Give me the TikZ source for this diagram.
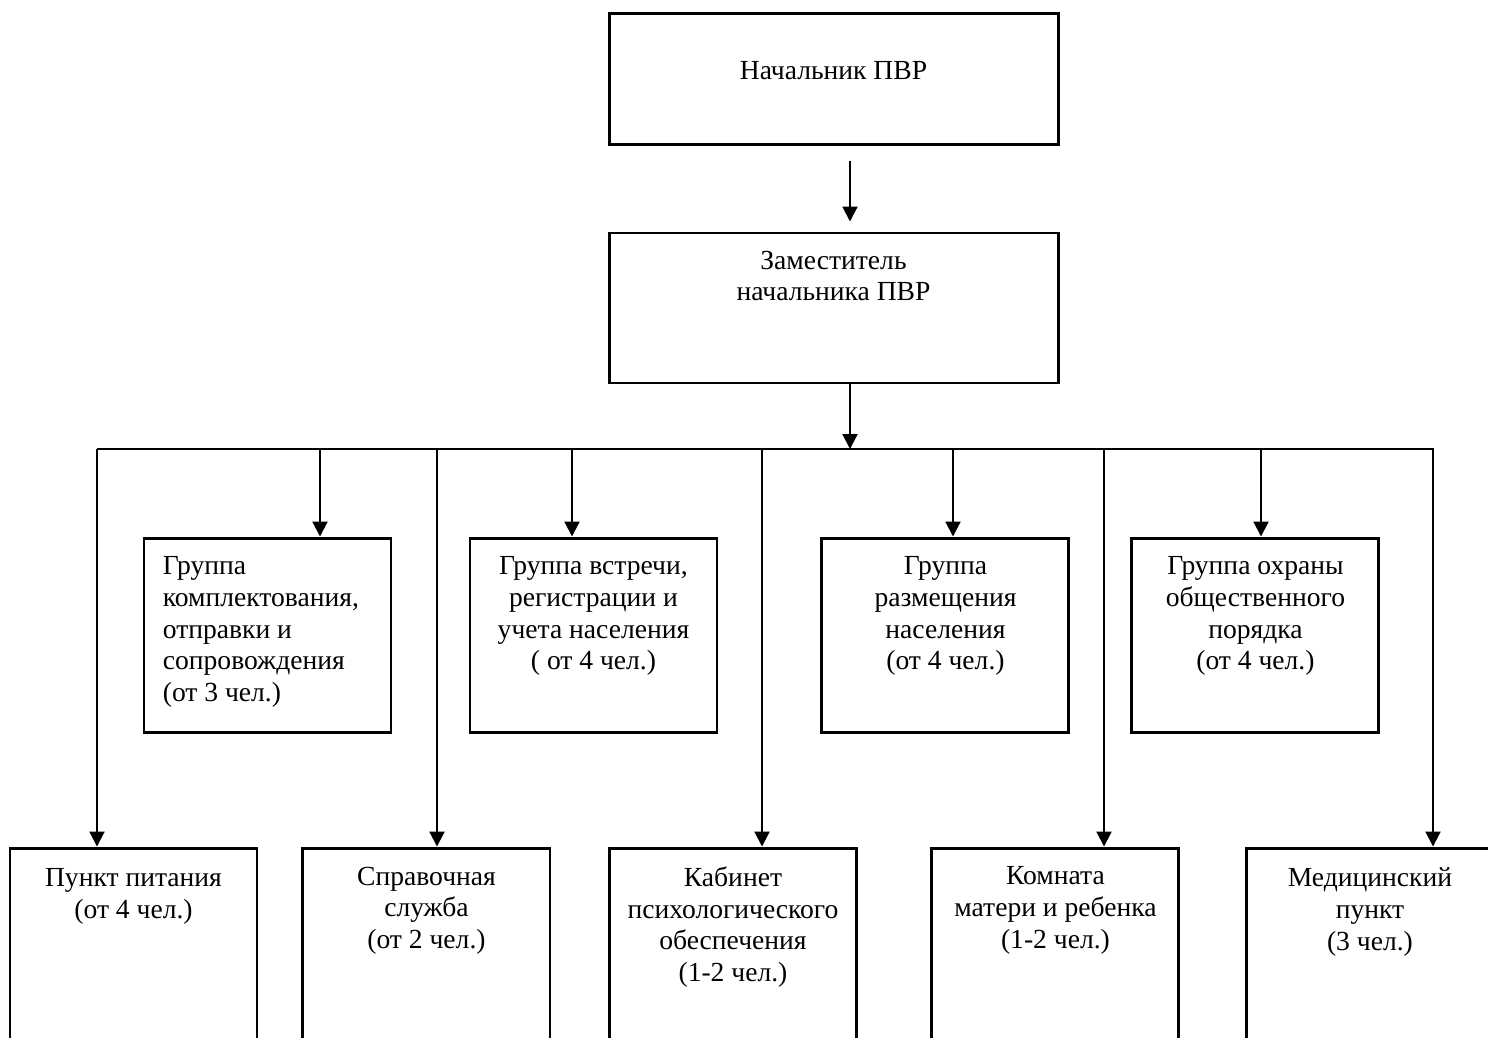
\documentclass[tikz,border=0pt]{standalone}
\usepackage{fontspec}
\setmainfont{Liberation Serif}
\usetikzlibrary{arrows.meta,positioning}

\begin{document}
\begin{tikzpicture}[font=\fontsize{15.7pt}{18pt}\selectfont,
    unit/.style={draw,line width=1.7pt,minimum width=4.94cm,minimum height=3.88cm,inner sep=0pt},
    post/.style={unit,minimum height=4.5cm},
    head/.style={unit,minimum width=8.98cm},
    txt/.style={align=center,inner sep=0pt},
    link/.style={line width=1.2pt,-{Triangle[width=3mm,length=3mm]}}]
    \clip (0,0) rectangle (29.76,-20.74);
    \node[head,minimum height=2.62cm] (chief) at (16.67,-1.57) {};
    \node[head,minimum height=3cm,below=1.72cm of chief] (deputy) {};
    \node[unit] (kompl) at (5.35,-12.70) {};
    \node[unit,right=1.52cm of kompl] (vstr) {};
    \node[unit,right=2.04cm of vstr] (razm) {};
    \node[unit,right=1.20cm of razm] (ohr) {};
    \node[post] (pit) at (2.67,-19.21) {};
    \node[post,right=0.86cm of pit] (sprav) {};
    \node[post,right=1.13cm of sprav] (kab) {};
    \node[post,right=1.45cm of kab] (komn) {};
    \node[post,right=1.29cm of komn] (med) {};
    \node[txt,below=1cm of chief.north] (chief-t) {Начальник ПВР};
    \node[txt,below=0.38cm of deputy.north] (deputy-t) {Заместитель\\начальника ПВР};
    \node[txt,align=left,below right=0.4cm and 0.4cm of kompl.north west] (kompl-t) {Группа\\комплектования,\\отправки и\\сопровождения\\(от 3 чел.)};
    \node[txt,below=0.4cm of vstr.north] (vstr-t) {Группа встречи,\\регистрации и\\учета населения\\( от 4 чел.)};
    \node[txt,below=0.4cm of razm.north] (razm-t) {Группа\\размещения\\населения\\(от 4 чел.)};
    \node[txt,below=0.4cm of ohr.north] (ohr-t) {Группа охраны\\общественного\\порядка\\(от 4 чел.)};
    \node[txt,below=0.44cm of pit.north] (pit-t) {Пункт питания\\(от 4 чел.)};
    \node[txt,below=0.4cm of sprav.north] (sprav-t) {Справочная\\служба\\(от 2 чел.)};
    \node[txt,below=0.4cm of kab.north] (kab-t) {Кабинет\\психологического\\обеспечения\\(1-2 чел.)};
    \node[txt,below=0.4cm of komn.north] (komn-t) {Комната\\матери и ребенка\\(1-2 чел.)};
    \node[txt,below=0.42cm of med.north] (med-t) {Медицинский\\пункт\\(3 чел.)};
    \coordinate (bus-l) at (1.94,-8.98);
    \coordinate (bus-r) at (28.66,-8.98);
    \coordinate (spine) at (17,-8.98);
    \foreach \n/\x in {kompl/6.40,vstr/11.44,razm/19.06,ohr/25.22,sprav/8.74,kab/15.24,komn/22.08}
      \coordinate (at-\n) at (\x,-8.98);
    \draw[link,shorten <=3mm,shorten >=2mm] (chief.south -| spine) -- (deputy.north -| spine);
    \draw[link] (deputy.south -| spine) -- (spine);
    \draw[link] (bus-l) -- (bus-r) -- (med.north -| bus-r);
    \draw[link] (bus-l) -- (pit.north -| bus-l);
    \foreach \n in {kompl,vstr,razm,ohr,sprav,kab,komn}
      \draw[link] (at-\n) -- (\n.north -| at-\n);
  \end{tikzpicture}
\end{document}
